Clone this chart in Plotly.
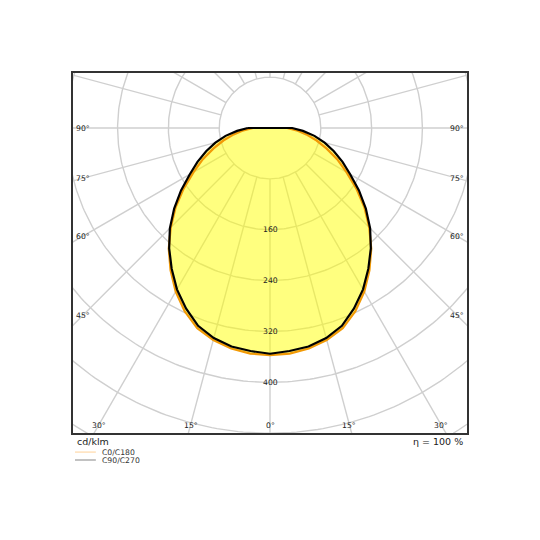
import numpy as np
import plotly.graph_objects as go

# ---- data (cd/klm) ----
gamma = [0, 5, 10, 15, 20, 25, 30, 35, 40, 45, 50, 55, 60, 65, 70, 75, 80, 85, 90]
c0_c180 = [357, 356, 352, 345, 335, 318, 297, 273, 248, 221, 194, 166, 139, 117, 95, 76, 58, 42, 27]
c90_c270 = [355, 352, 349, 342, 331, 313, 293, 270, 247, 223, 197, 171, 146, 126, 107, 89, 71, 52, 35]

ring_values = [80, 160, 240, 320, 400, 480, 560, 640, 720]
ring_labels = [160, 240, 320, 400]
radial_angles = list(range(0, 360, 15))
angle_label_values = [90, 75, 60, 45, 30, 15, 0]
series_names = ["C0/C180", "C90/C270"]
unit_text = "cd/klm"
eta_text = "η = 100 %"

# ---- geometry ----
XR = 310.2
YTOP, YBOT = 86.5, -479.6
UPP = (2 * XR) / 394.6  # data units per pixel

def to_xy(g, r):
    g = np.radians(np.asarray(g, float))
    r = np.asarray(r, float)
    return r * np.sin(g), -r * np.cos(g)

def full_curve(vals):
    g = np.array(gamma, float)
    v = np.array(vals, float)
    gg = np.concatenate([-g[::-1], g[1:]])
    vv = np.concatenate([v[::-1], v[1:]])
    x, y = to_xy(gg, vv)
    return np.append(x, x[0]), np.append(y, y[0])

fig = go.Figure()
grid_col = "#cfcfcf"

# rings
t = np.linspace(0, 2 * np.pi, 361)
for rv in ring_values:
    fig.add_trace(go.Scatter(x=rv * np.cos(t), y=rv * np.sin(t), mode="lines",
                             line=dict(color=grid_col, width=1.4), hoverinfo="skip", showlegend=False))
# radial lines
for a in radial_angles:
    x, y = to_xy([a, a], [ring_values[0], 1000])
    fig.add_trace(go.Scatter(x=x, y=y, mode="lines", line=dict(color=grid_col, width=1.4),
                             hoverinfo="skip", showlegend=False))

# fill (envelope)
env = np.maximum(np.array(c0_c180), np.array(c90_c270))
fx, fy = full_curve(env)
fig.add_trace(go.Scatter(x=fx, y=fy, mode="lines", fill="toself", fillcolor="rgba(255,255,0,0.5)",
                         line=dict(width=0), hoverinfo="skip", showlegend=False))

ox, oy = full_curve(c0_c180)
fig.add_trace(go.Scatter(x=ox, y=oy, mode="lines", name=series_names[0],
                         line=dict(color="#F29A05", width=2.2), showlegend=False))
bx, by = full_curve(c90_c270)
fig.add_trace(go.Scatter(x=bx, y=by, mode="lines", name=series_names[1],
                         line=dict(color="#000000", width=2.2), showlegend=False))

annotations = []
lab_font = dict(family="DejaVu Sans", size=7.7, color="#222")
for rl in ring_labels:
    annotations.append(dict(x=0, y=-rl, xref="x", yref="y", text=str(rl), showarrow=False,
                            font=lab_font, xanchor="center", yanchor="middle"))

xin = XR - 10 * UPP
yin = -(abs(YBOT) - 8 * UPP)
for a in angle_label_values:
    rad = np.radians(a)
    s, c = np.sin(rad), np.cos(rad)
    cand = []
    if s > 1e-9:
        cand.append(xin / s)
    if c > 1e-9:
        cand.append(abs(yin) / c)
    d = min(cand)
    for sign in ([1] if a == 0 else [-1, 1]):
        annotations.append(dict(x=sign * d * s, y=-d * c, xref="x", yref="y", text=f"{a}°",
                                showarrow=False, font=lab_font, xanchor="center", yanchor="middle"))

txt_font = dict(family="DejaVu Sans", size=9.5, color="#222")
annotations.append(dict(x=0.005, y=-0.002, xref="paper", yref="paper", text=unit_text, showarrow=False,
                        font=txt_font, xanchor="left", yanchor="top"))
annotations.append(dict(x=0.995, y=-0.002, xref="paper", yref="paper", text=eta_text, showarrow=False,
                        font=txt_font, xanchor="right", yanchor="top"))

# legend (manual)
leg_cols = ["#FFD9A8", "#999999"]
shapes = []
for i, (nm, col) in enumerate(zip(series_names, leg_cols)):
    yp = -0.053 - i * 0.022
    shapes.append(dict(type="line", xref="paper", yref="paper", x0=0.005, x1=0.058, y0=yp, y1=yp,
                       line=dict(color=col, width=1.2)))
    annotations.append(dict(x=0.068, y=yp, xref="paper", yref="paper", text=nm, showarrow=False,
                            font=dict(family="DejaVu Sans", size=7.7, color="#333"),
                            xanchor="left", yanchor="middle"))

fig.update_layout(
    width=540, height=540,
    margin=dict(l=65, r=81, t=65, b=115),
    paper_bgcolor="white", plot_bgcolor="white",
    xaxis=dict(range=[-XR, XR], showgrid=False, zeroline=False, showticklabels=False, ticks="",
               showline=True, linecolor="#333", linewidth=2, mirror=True, fixedrange=True),
    yaxis=dict(range=[YBOT, YTOP], showgrid=False, zeroline=False, showticklabels=False, ticks="",
               showline=True, linecolor="#333", linewidth=2, mirror=True, fixedrange=True),
    annotations=annotations, shapes=shapes, showlegend=False,
)

fig.write_html("out.html")
